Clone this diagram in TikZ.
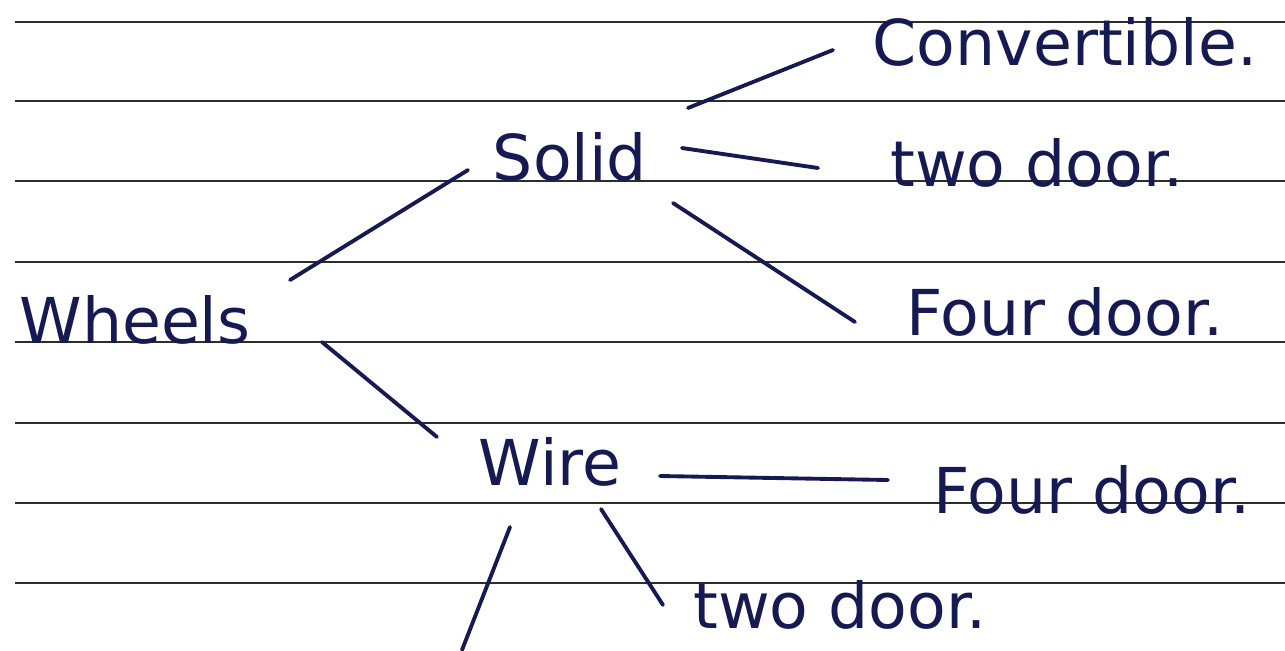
\documentclass[tikz,border=0pt]{standalone}
\usepackage{fontspec}
\setmainfont{DejaVu Sans}
\definecolor{ink}{RGB}{22,26,82}
\definecolor{rulegray}{RGB}{45,45,45}

\begin{document}
\begin{tikzpicture}[x=0.02cm,y=-0.02cm,
  word/.style={text=ink,inner sep=0pt,font=\fontsize{36}{40}\selectfont},
  link/.style={draw=ink,line width=2.2pt,line cap=round}]
\useasboundingbox (0,0) rectangle (1285,650);
% ruled lines
\foreach \y in {22,101,181,262,342,423,503,583}{
  \draw[rulegray,line width=1.1pt] (15,\y) -- (1285,\y);
}
% words
\node[word] (wheels) at (135,320) {Wheels};
\node[word] (solid) at (570,157) {Solid};
\node[word] (wire) at (550,462) {Wire};
\node[word] (conv) at (1065,42) {Convertible.};
\node[word] (stwo) at (1037,163) {two door.};
\node[word] (sfour) at (1065,312) {Four door.};
\node[word] (wfour) at (1092,490) {Four door.};
\node[word] (wtwo) at (840,605) {two door.};
\coordinate (wdown) at (462,650);
% branches from wheels
\draw[link] ([shift={(155,-40)}]wheels.center) -- ([shift={(-102,13)}]solid.center);
\draw[link] ([shift={(187,22)}]wheels.center) -- ([shift={(-113,-25)}]wire.center);
% branches from solid
\draw[link] ([shift={(118,-49)}]solid.center) -- ([shift={(-232,8)}]conv.center);
\draw[link] ([shift={(112,-9)}]solid.center) -- ([shift={(-219,5)}]stwo.center);
\draw[link] ([shift={(103,46)}]solid.center) -- ([shift={(-210,10)}]sfour.center);
% branches from wire
\draw[link] ([shift={(110,14)}]wire.center) -- ([shift={(-204,-10)}]wfour.center);
\draw[link] ([shift={(51,47)}]wire.center) -- ([shift={(-177,0)}]wtwo.center);
\draw[link] ([shift={(-40,65)}]wire.center) -- (wdown);
\end{tikzpicture}
\end{document}
